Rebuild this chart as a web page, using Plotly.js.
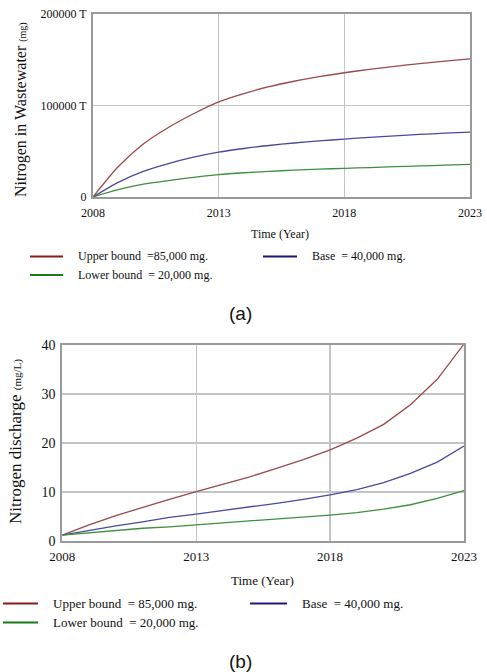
<!DOCTYPE html>
<html><head><meta charset="utf-8">
<script src="https://cdn.plot.ly/plotly-3.0.1.min.js"></script>
<style>html,body{margin:0;padding:0;background:#fff}#chart{width:487px;height:672px}</style>
</head><body><div id="chart"></div>
<script>
var years = [2008,2009,2010,2011,2012,2013,2014,2015,2016,2017,2018,2019,2020,2021,2022,2023];
// (a) Nitrogen in Wastewater (mg)
var wwUpper = [0,33000,58000,76000,91000,104000,113000,120500,126500,131500,135800,139500,142800,145800,148400,151000];
var wwBase  = [0,16000,28000,36500,43500,49000,53000,56300,59000,61300,63300,65200,66900,68400,69700,71000];
var wwLower = [0,8000,14000,18000,21500,24500,26500,28000,29300,30400,31300,32200,33100,34000,34800,35700];
// (b) Nitrogen discharge (mg/L)
var dcUpper = [1.2,3.3,5.2,6.9,8.5,10.1,11.6,13.1,14.8,16.6,18.6,21.0,23.8,27.8,33.0,40.2];
var dcBase  = [1.2,2.2,3.1,3.9,4.8,5.5,6.2,6.9,7.7,8.5,9.4,10.5,11.9,13.8,16.1,19.4];
var dcLower = [1.2,1.7,2.2,2.6,2.9,3.3,3.7,4.0,4.4,4.8,5.3,5.8,6.5,7.4,8.7,10.3];
var xTicks = [2008,2013,2018,2023];
var xTickText = ['2008','2013','2018','2023'];
var yTicksA = [0,100000,200000];
var yTickTextA = ['0','100000 T','200000 T'];
var yTicksB = [0,10,20,30,40];
var seriesNames = ['Upper bound&nbsp;&nbsp;=85,000 mg.','Base&nbsp;&nbsp;= 40,000 mg.','Lower bound&nbsp;&nbsp;= 20,000 mg.'];
var seriesNamesB = ['Upper bound&nbsp;&nbsp;= 85,000 mg.','Base&nbsp;&nbsp;= 40,000 mg.','Lower bound&nbsp;&nbsp;= 20,000 mg.'];

var W = 487, H = 672;
function px(x){return x/W;}
function py(y){return 1 - y/H;}
var cUp = '#9b4a4a', cBase = '#4a4a9b', cLow = '#3f8f3f';
var lUp = '#8b1a1a', lBase = '#1a1a7a', lLow = '#1a7a1a';
var serif = 'Liberation Serif';
var tc = '#111';

function tr(x, y, c, xa, ya, shape){
  return {x:x, y:y, type:'scatter', mode:'lines', line:{color:c, width:1.3, shape:shape||'linear', smoothing:0.8}, xaxis:xa, yaxis:ya, showlegend:false, hoverinfo:'skip'};
}
var data = [
  tr(years, wwUpper, cUp, 'x', 'y', 'spline'),
  tr(years, wwBase, cBase, 'x', 'y', 'spline'),
  tr(years, wwLower, cLow, 'x', 'y', 'spline'),
  tr(years, dcUpper, cUp, 'x2', 'y2'),
  tr(years, dcBase, cBase, 'x2', 'y2'),
  tr(years, dcLower, cLow, 'x2', 'y2')
];

var axBase = {showline:true, mirror:true, linecolor:'#9a9a9a', linewidth:2, gridcolor:'#c4c4c4', gridwidth:1.3, zeroline:false, ticks:'', fixedrange:true};
var layout = {
  width:W, height:H, margin:{l:0,r:0,t:0,b:0}, paper_bgcolor:'#fff', plot_bgcolor:'#fff', showlegend:false,
  font:{family:serif, color:tc},
  xaxis: Object.assign({}, axBase, {domain:[px(93),px(470)], range:[2008,2023], tickvals:xTicks, ticktext:xTickText, anchor:'y', tickfont:{family:serif, size:12, color:tc}, ticklabelstandoff:4}),
  yaxis: Object.assign({}, axBase, {domain:[py(197),py(14)], range:[0,200000], tickvals:yTicksA, ticktext:yTickTextA, anchor:'x', tickfont:{family:serif, size:12, color:tc}, ticklabelstandoff:2}),
  xaxis2: Object.assign({}, axBase, {domain:[px(62.3),px(464)], range:[2008,2023], tickvals:xTicks, ticktext:xTickText, anchor:'y2', tickfont:{family:serif, size:13, color:tc}, ticklabelstandoff:2}),
  yaxis2: Object.assign({}, axBase, {domain:[py(541),py(345)], range:[0,40], tickvals:yTicksB, anchor:'x2', tickfont:{family:serif, size:14, color:tc}, ticklabelstandoff:2}),
  shapes:[], annotations:[]
};
function legLine(x0,x1,y,c){
  layout.shapes.push({type:'line', xref:'paper', yref:'paper', x0:px(x0), x1:px(x1), y0:py(y), y1:py(y), line:{color:c, width:2}});
}
function txt(t,x,y,size,anchor,angle,family){
  layout.annotations.push({text:t, xref:'paper', yref:'paper', x:px(x), y:py(y), xanchor:anchor||'center', yanchor:'middle', showarrow:false, textangle:angle||0, font:{family:family||serif, size:size, color:tc}});
}
// Chart (a)
txt('Nitrogen in Wastewater <span style="font-size:10px">(mg)</span>', 21, 110, 16, 'center', -90);
txt('Time (Year)', 280, 234, 12);
legLine(30,63,256.5,lUp); txt(seriesNames[0], 76, 256, 12, 'left');
legLine(263,297,256.5,lBase); txt(seriesNames[1], 310, 256, 12, 'left');
legLine(30,63,275,lLow); txt(seriesNames[2], 76, 275, 12, 'left');
txt('(a)', 240, 313, 19, 'center', 0, 'Liberation Sans');
// Chart (b)
txt('Nitrogen discharge <span style="font-size:11px">(mg/L)</span>', 15, 442, 17, 'center', -90);
txt('Time (Year)', 262, 580.5, 13);
legLine(3,38,603.5,lUp); txt(seriesNamesB[0], 51, 603, 13, 'left');
legLine(250,287,603.5,lBase); txt(seriesNamesB[1], 300, 603, 13, 'left');
legLine(3,38,622.5,lLow); txt(seriesNamesB[2], 51, 622, 13, 'left');
txt('(b)', 240, 661, 19, 'center', 0, 'Liberation Sans');

Plotly.newPlot('chart', data, layout, {staticPlot:true, displayModeBar:false});
</script></body></html>
